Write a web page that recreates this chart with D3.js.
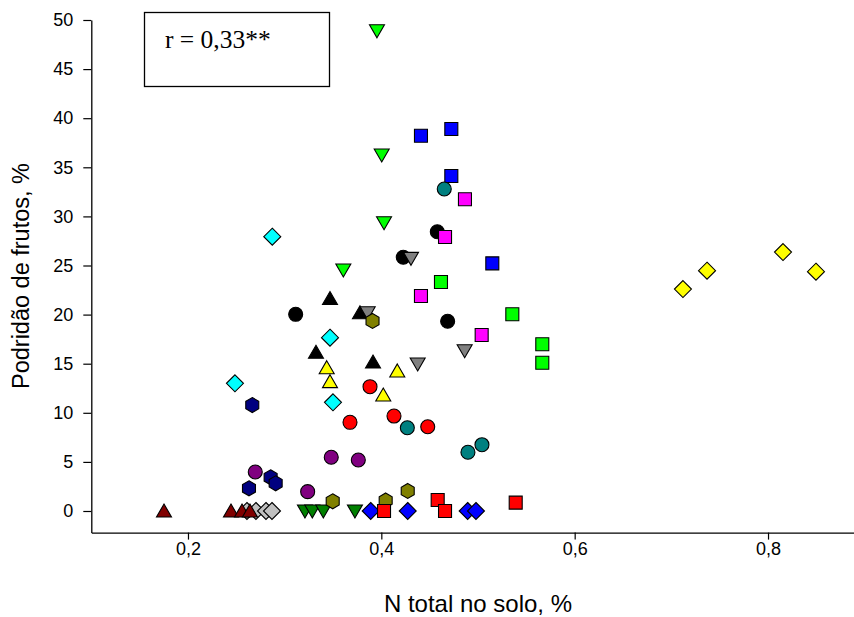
<!DOCTYPE html>
<html>
<head>
<meta charset="utf-8">
<script src="https://cdn.jsdelivr.net/npm/d3@7"></script>
<style>
  html, body { margin: 0; padding: 0; background: #fff; }
  svg { display: block; }
</style>
</head>
<body>
<svg id="chart" width="854" height="617"></svg>
<script>
// ---- Data ----
const xTicks = [0.2, 0.4, 0.6, 0.8];
const xTickLabels = ["0,2", "0,4", "0,6", "0,8"];
const yTicks = [0, 5, 10, 15, 20, 25, 30, 35, 40, 45, 50];
const yTickLabels = ["0", "5", "10", "15", "20", "25", "30", "35", "40", "45", "50"];
const xTitle = "N total no solo, %";
const yTitle = "Podridão de frutos, %";
const annotation = "r = 0,33**";

// each series: x values, y values, marker shape and fill (drawn in this order)
const silverDiamondX = [0.261, 0.2703, 0.2807, 0.2869];
const silverDiamondY = [0, 0, 0, 0];
const darkRedTriX = [0.1752, 0.2445, 0.2559, 0.2641];
const darkRedTriY = [0, 0, 0, 0];
const darkGreenDownX = [0.321, 0.3286, 0.34, 0.3727];
const darkGreenDownY = [0, 0, 0, 0];
const blueDiamondX = [0.389, 0.4273, 0.4893, 0.4979];
const blueDiamondY = [0, 0, 0, 0];
const navyHexX = [0.2665, 0.2855, 0.2907, 0.2631];
const navyHexY = [10.79, 3.43, 2.82, 2.31];
const purpleCircleX = [0.3482, 0.3762, 0.2696, 0.3238];
const purpleCircleY = [5.47, 5.19, 3.97, 1.97];
const redCircleX = [0.3883, 0.3676, 0.4131, 0.448];
const redCircleY = [12.66, 9.03, 9.67, 8.58];
const cyanDiamondX = [0.2872, 0.3469, 0.2486, 0.35];
const cyanDiamondY = [27.93, 17.65, 13.0, 11.07];
const yellowTriX = [0.3435, 0.3469, 0.4165, 0.402];
const yellowTriY = [14.59, 13.17, 14.26, 11.81];
const blackTriX = [0.3469, 0.3779, 0.3324, 0.3914];
const blackTriY = [21.64, 20.19, 16.16, 15.17];
const blackCircleX = [0.4579, 0.4227, 0.4686, 0.3114];
const blackCircleY = [28.44, 25.84, 19.32, 20.03];
const grayDownX = [0.4307, 0.3859, 0.4862, 0.4376];
const grayDownY = [25.73, 20.19, 16.32, 14.97];
const oliveHexX = [0.3909, 0.3497, 0.4045, 0.4273];
const oliveHexY = [19.35, 0.99, 1.07, 2.04];
const redSquareX = [0.539, 0.4583, 0.4659, 0.4028];
const redSquareY = [0.85, 1.12, 0, 0];
const blueSquareX = [0.441, 0.4724, 0.4724, 0.5148];
const blueSquareY = [38.22, 38.9, 34.11, 25.22];
const tealCircleX = [0.4651, 0.4269, 0.5041, 0.4896];
const tealCircleY = [32.79, 8.48, 6.75, 5.98];
const magentaSquareX = [0.4865, 0.4659, 0.441, 0.5038];
const magentaSquareY = [31.74, 27.9, 21.89, 17.92];
const limeSquareX = [0.4617, 0.5355, 0.5665, 0.5665];
const limeSquareY = [23.32, 20.03, 16.98, 15.1];
const limeDownX = [0.3955, 0.4004, 0.4028, 0.3607];
const limeDownY = [48.9, 36.25, 29.36, 24.54];
const yellowDiamondX = [0.712, 0.7369, 0.8155, 0.8496];
const yellowDiamondY = [22.6, 24.47, 26.37, 24.37];

const series = [
  { x: silverDiamondX, y: silverDiamondY, shape: "diamond", fill: "#c0c0c0" },
  { x: darkRedTriX, y: darkRedTriY, shape: "up", fill: "#800000" },
  { x: darkGreenDownX, y: darkGreenDownY, shape: "down", fill: "#008000" },
  { x: blueDiamondX, y: blueDiamondY, shape: "diamond", fill: "#0000ff" },
  { x: navyHexX, y: navyHexY, shape: "hex", fill: "#000080" },
  { x: purpleCircleX, y: purpleCircleY, shape: "circle", fill: "#800080" },
  { x: redCircleX, y: redCircleY, shape: "circle", fill: "#ff0000" },
  { x: cyanDiamondX, y: cyanDiamondY, shape: "diamond", fill: "#00ffff" },
  { x: yellowTriX, y: yellowTriY, shape: "up", fill: "#ffff00" },
  { x: blackTriX, y: blackTriY, shape: "up", fill: "#000000" },
  { x: blackCircleX, y: blackCircleY, shape: "circle", fill: "#000000" },
  { x: grayDownX, y: grayDownY, shape: "down", fill: "#808080" },
  { x: oliveHexX, y: oliveHexY, shape: "hex", fill: "#808000" },
  { x: redSquareX, y: redSquareY, shape: "square", fill: "#ff0000" },
  { x: blueSquareX, y: blueSquareY, shape: "square", fill: "#0000ff" },
  { x: tealCircleX, y: tealCircleY, shape: "circle", fill: "#008080" },
  { x: magentaSquareX, y: magentaSquareY, shape: "square", fill: "#ff00ff" },
  { x: limeSquareX, y: limeSquareY, shape: "square", fill: "#00ff00" },
  { x: limeDownX, y: limeDownY, shape: "down", fill: "#00ff00" },
  { x: yellowDiamondX, y: yellowDiamondY, shape: "diamond", fill: "#ffff00" }
];

// ---- Chart ----
const svg = d3.select("#chart");
const x = d3.scaleLinear().domain([0.1, 0.9]).range([91.3, 864.7]);
const y = d3.scaleLinear().domain([-2.2, 50]).range([532.6, 20]);

function markerPath(shape) {
  const p = d3.path();
  if (shape === "circle") {
    p.arc(0, 0, 7, 0, 2 * Math.PI);
  } else if (shape === "square") {
    p.rect(-6.5, -6.5, 13, 13);
  } else if (shape === "diamond") {
    p.moveTo(0, -8.5); p.lineTo(8.5, 0); p.lineTo(0, 8.5); p.lineTo(-8.5, 0); p.closePath();
  } else if (shape === "up") {
    p.moveTo(0, -7); p.lineTo(7.5, 6); p.lineTo(-7.5, 6); p.closePath();
  } else if (shape === "down") {
    p.moveTo(0, 7); p.lineTo(7.5, -6); p.lineTo(-7.5, -6); p.closePath();
  } else if (shape === "hex") {
    for (let k = 0; k < 6; k++) {
      const a = -Math.PI / 2 + k * Math.PI / 3;
      const px = 7.5 * Math.cos(a), py = 7.5 * Math.sin(a);
      if (k === 0) p.moveTo(px, py); else p.lineTo(px, py);
    }
    p.closePath();
  }
  return p.toString();
}

// axes
const xAxis = d3.axisBottom(x).tickValues(xTicks)
  .tickFormat((d, i) => xTickLabels[i]).tickSize(7).tickSizeOuter(0);
const yAxis = d3.axisLeft(y).tickValues(yTicks)
  .tickFormat((d, i) => yTickLabels[i]).tickSize(8).tickSizeOuter(0);

const gx = svg.append("g").attr("transform", `translate(0,${y(-2.2)})`).call(xAxis);
const gy = svg.append("g").attr("transform", `translate(${x(0.1)},0)`).call(yAxis);
[gx, gy].forEach(g => {
  g.select(".domain").attr("stroke", "#000").attr("stroke-width", 1.3);
  g.selectAll(".tick line").attr("stroke", "#000").attr("stroke-width", 1.2);
  g.selectAll(".tick text").attr("fill", "#000")
    .style("font-family", "'Liberation Sans', Arial, sans-serif").style("font-size", "18px");
});
gx.selectAll(".tick text").attr("dy", "0.71em").attr("y", 10);
gy.selectAll(".tick text").attr("x", -18);

// axis titles
svg.append("text").attr("x", 478).attr("y", 612).attr("text-anchor", "middle")
  .style("font-family", "'Liberation Sans', Arial, sans-serif").style("font-size", "24px")
  .attr("fill", "#000").text(xTitle);
svg.append("text").attr("transform", "translate(29,276) rotate(-90)").attr("text-anchor", "middle")
  .style("font-family", "'Liberation Sans', Arial, sans-serif").style("font-size", "23.5px")
  .attr("fill", "#000").text(yTitle);

// annotation box
svg.append("rect").attr("x", 144.5).attr("y", 12.5).attr("width", 185).attr("height", 74)
  .attr("fill", "none").attr("stroke", "#000").attr("stroke-width", 1.3);
svg.append("text").attr("x", 165).attr("y", 48)
  .style("font-family", "'Liberation Serif', 'Times New Roman', serif").style("font-size", "25.5px")
  .attr("fill", "#000").text(annotation);

// points
const gp = svg.append("g");
series.forEach(s => {
  const pts = s.x.map((v, i) => [v, s.y[i]]);
  gp.append("g").selectAll("path").data(pts).join("path")
    .attr("transform", d => `translate(${x(d[0])},${y(d[1])})`)
    .attr("d", markerPath(s.shape))
    .attr("fill", s.fill)
    .attr("stroke", "#000")
    .attr("stroke-width", 1.1);
});
</script>
</body>
</html>
